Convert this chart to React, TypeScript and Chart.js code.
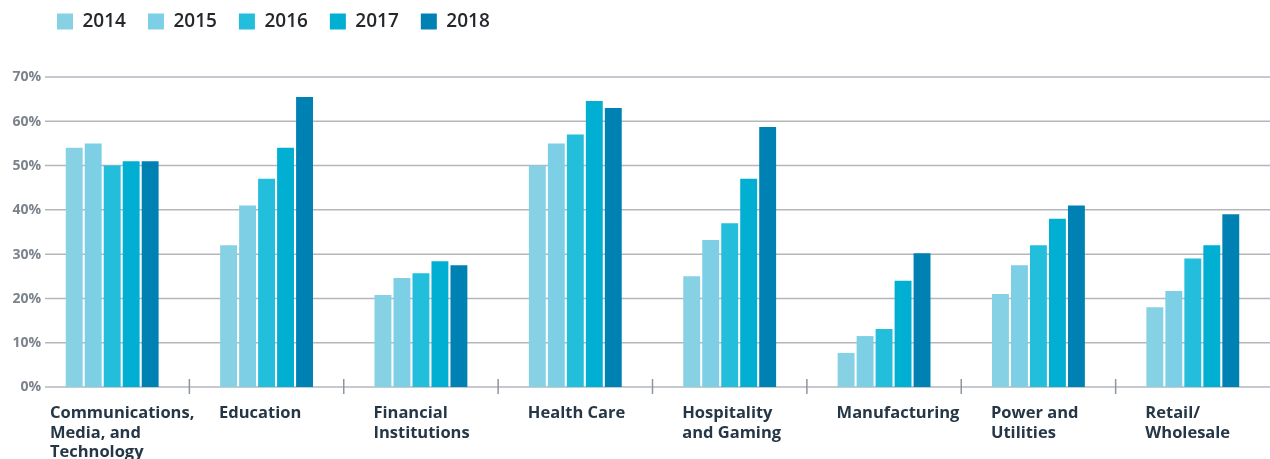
import { useEffect, useRef } from "react";
import { Chart, registerables } from "chart.js";

Chart.register(...registerables);

const categories: string[][] = [
  ["Communications,", "Media, and", "Technology"],
  ["Education"],
  ["Financial", "Institutions"],
  ["Health Care"],
  ["Hospitality", "and Gaming"],
  ["Manufacturing"],
  ["Power and", "Utilities"],
  ["Retail/", "Wholesale"],
];
const years = ["2014", "2015", "2016", "2017", "2018"];
const v2014 = [54, 32, 20.8, 50, 25, 7.7, 21, 18];
const v2015 = [55, 41, 24.6, 55, 33.2, 11.5, 27.5, 21.7];
const v2016 = [50, 47, 25.7, 57, 37, 13.1, 32, 29];
const v2017 = [51, 54, 28.4, 64.6, 47, 24, 38, 32];
const v2018 = [51, 65.5, 27.5, 63, 58.7, 30.2, 41, 39];
const seriesValues = [v2014, v2015, v2016, v2017, v2018];
const seriesColors = ["#86d1e4", "#7dcfe5", "#22bedb", "#00afd1", "#0081b4"];
const yMax = 70;
const yStep = 10;

const FONT = "'Open Sans', 'DejaVu Sans', sans-serif";
const CAT_PCT = 0.615;

const customGrid = {
  id: "customGrid",
  beforeLayout(chart: any) {
    const lg = chart.legend;
    if (lg && !lg._patchedFit) {
      const orig = lg.fit;
      lg.fit = function (this: any) {
        orig.call(this);
        this.height = 87;
      };
      lg._patchedFit = true;
    }
  },
  beforeDatasetsDraw(chart: any) {
    const { ctx, chartArea, scales } = chart;
    const y = scales.y;
    ctx.save();
    ctx.strokeStyle = "#b3b7bc";
    ctx.lineWidth = 1.5;
    y.ticks.forEach((t: any) => {
      const py = y.getPixelForValue(t.value);
      ctx.beginPath();
      ctx.moveTo(chartArea.left + 10, py);
      ctx.lineTo(chartArea.right, py);
      ctx.stroke();
    });
    // y tick labels
    ctx.fillStyle = "#7c838c";
    ctx.font = `700 14px ${FONT}`;
    ctx.textAlign = "right";
    ctx.textBaseline = "middle";
    y.ticks.forEach((t: any) => {
      const py = y.getPixelForValue(t.value);
      ctx.fillText(`${t.value}%`, chartArea.left + 6, py + 0.5);
    });
    ctx.restore();
  },
  afterDatasetsDraw(chart: any) {
    const { ctx, scales } = chart;
    const x = scales.x;
    const y = scales.y;
    const y0 = y.getPixelForValue(0);
    const catW = x.getPixelForValue(1) - x.getPixelForValue(0);
    ctx.save();
    ctx.strokeStyle = "#8f959c";
    ctx.lineWidth = 1.5;
    for (let i = 0; i < categories.length - 1; i++) {
      const px = x.getPixelForValue(i) + catW / 2;
      ctx.beginPath();
      ctx.moveTo(px, y0 - 8);
      ctx.lineTo(px, y0 + 7);
      ctx.stroke();
    }
    // category labels, left-aligned with the bar group
    ctx.fillStyle = "#253746";
    ctx.font = `700 16.5px ${FONT}`;
    ctx.textAlign = "left";
    ctx.textBaseline = "middle";
    const lineH = 19.8;
    categories.forEach((lines, i) => {
      const center = x.getPixelForValue(i);
      const groupLeft = center - (catW * CAT_PCT) / 2;
      const maxW = Math.max(...lines.map((l) => ctx.measureText(l).width));
      const limit = center + catW / 2 + 5 - maxW;
      const lx = Math.min(groupLeft, limit);
      lines.forEach((l, k) => {
        ctx.fillText(l, lx, y0 + 26 + k * lineH);
      });
    });
    ctx.restore();
  },
};

export default function App() {
  const ref = useRef<HTMLCanvasElement | null>(null);

  useEffect(() => {
    if (!ref.current) return;
    const chart = new Chart(ref.current, {
      type: "bar",
      data: {
        labels: categories.map((c) => c.join(" ")),
        datasets: years.map((yr, i) => ({
          label: yr,
          data: seriesValues[i],
          backgroundColor: seriesColors[i],
          borderWidth: 0,
          categoryPercentage: CAT_PCT,
          barPercentage: 0.89,
        })),
      },
      options: {
        animation: false,
        responsive: true,
        maintainAspectRatio: false,
        layout: { padding: 0 },
        plugins: {
          tooltip: { enabled: false },
          legend: {
            display: true,
            position: "top",
            align: "start",
            fullSize: false,
            labels: {
              boxWidth: 16,
              boxHeight: 16,
              padding: 22,
              color: "#24272b",
              font: { family: FONT, size: 19, weight: "600" },
            },
          },
        },
        scales: {
          x: {
            grid: { display: false, drawTicks: false },
            border: { display: false },
            afterFit(scale: any) {
              scale.height = 72;
              scale.paddingLeft = 0;
              scale.paddingRight = 0;
            },
            ticks: { display: false, autoSkip: false },
          },
          y: {
            min: 0,
            max: yMax,
            grid: { display: false, drawTicks: false },
            border: { display: false },
            afterFit(scale: any) {
              scale.width = 35;
            },
            ticks: {
              stepSize: yStep,
              display: false,
            },
          },
        },
      },
      plugins: [customGrid],
    });
    return () => chart.destroy();
  }, []);

  return (
    <div style={{ position: "fixed", left: 0, top: -10, width: 1270, height: 469 }}>
      <canvas ref={ref} />
    </div>
  );
}
